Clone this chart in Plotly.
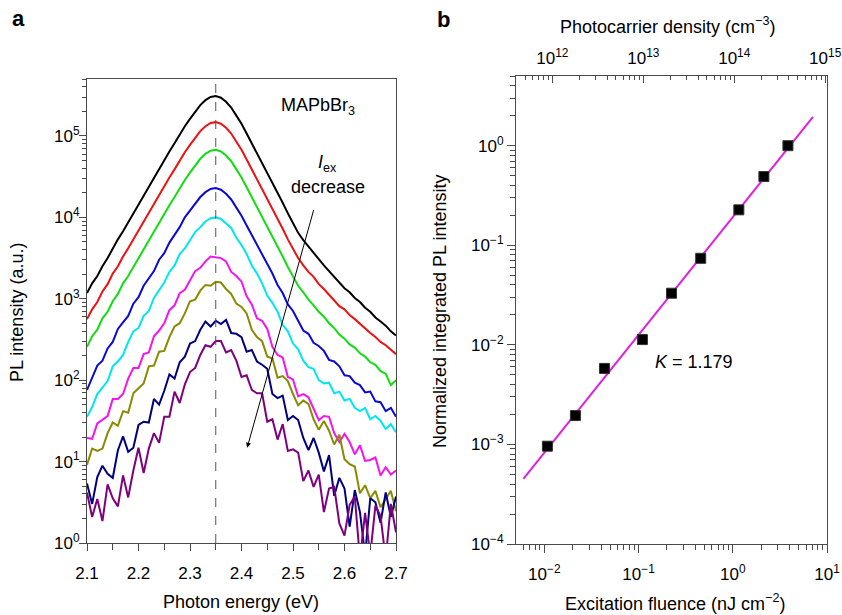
import numpy as np
import plotly.graph_objects as go

# ---- panel a : PL spectra, log10(counts) every 10 meV ----
energy = np.round(np.linspace(2.10, 2.70, 61), 2)   # photon energy grid (eV)
peak_energy = 2.35                                   # dashed guide line

pl_black = [3.07, 3.19, 3.28, 3.40, 3.50, 3.62, 3.73, 3.83, 3.94, 4.05,
            4.16, 4.27, 4.38, 4.49, 4.59, 4.70, 4.81, 4.91, 5.02, 5.12,
            5.21, 5.30, 5.38, 5.44, 5.48, 5.49, 5.47, 5.42, 5.35, 5.25,
            5.15, 5.03, 4.91, 4.79, 4.67, 4.55, 4.43, 4.30, 4.18, 4.05,
            3.93, 3.81, 3.72, 3.64, 3.56, 3.49, 3.41, 3.34, 3.27, 3.19,
            3.13, 3.08, 3.01, 2.96, 2.89, 2.84, 2.77, 2.72, 2.67, 2.60, 2.55]
pl_red = [2.75, 2.87, 2.96, 3.09, 3.18, 3.31, 3.40, 3.52, 3.62, 3.73,
          3.84, 3.95, 4.06, 4.17, 4.27, 4.38, 4.49, 4.59, 4.70, 4.80,
          4.89, 4.98, 5.06, 5.12, 5.16, 5.17, 5.15, 5.10, 5.03, 4.93,
          4.83, 4.71, 4.59, 4.47, 4.35, 4.23, 4.11, 3.98, 3.86, 3.73,
          3.61, 3.50, 3.41, 3.33, 3.27, 3.18, 3.12, 3.05, 2.98, 2.91,
          2.87, 2.80, 2.75, 2.69, 2.64, 2.58, 2.53, 2.47, 2.43, 2.37, 2.32]
pl_green = [2.41, 2.54, 2.62, 2.76, 2.84, 2.97, 3.06, 3.19, 3.28, 3.39,
            3.50, 3.61, 3.72, 3.83, 3.93, 4.04, 4.15, 4.25, 4.36, 4.46,
            4.55, 4.64, 4.72, 4.78, 4.82, 4.83, 4.81, 4.76, 4.69, 4.59,
            4.49, 4.37, 4.25, 4.13, 4.01, 3.89, 3.77, 3.64, 3.52, 3.39,
            3.27, 3.16, 3.08, 2.99, 2.92, 2.84, 2.78, 2.70, 2.64, 2.56,
            2.51, 2.44, 2.40, 2.33, 2.29, 2.22, 2.19, 2.11, 2.08, 1.94, 2.00]
pl_blue = [1.88, 2.04, 2.18, 2.24, 2.39, 2.47, 2.63, 2.71, 2.79, 2.94,
           3.02, 3.16, 3.25, 3.34, 3.48, 3.56, 3.69, 3.78, 3.88, 4.00,
           4.08, 4.17, 4.25, 4.31, 4.35, 4.36, 4.34, 4.29, 4.22, 4.12,
           4.02, 3.90, 3.78, 3.66, 3.54, 3.42, 3.31, 3.17, 3.07, 2.93,
           2.85, 2.73, 2.61, 2.57, 2.46, 2.42, 2.36, 2.25, 2.23, 2.17,
           2.06, 2.05, 1.97, 1.94, 1.85, 1.86, 1.74, 1.73, 1.62, 1.66, 1.55]
pl_cyan = [1.55, 1.67, 1.83, 1.91, 1.99, 2.17, 2.23, 2.31, 2.47, 2.60,
           2.64, 2.79, 2.85, 3.01, 3.10, 3.20, 3.33, 3.41, 3.55, 3.62,
           3.72, 3.82, 3.88, 3.95, 3.99, 4.00, 3.98, 3.93, 3.87, 3.75,
           3.66, 3.55, 3.41, 3.31, 3.19, 3.04, 2.95, 2.84, 2.68, 2.60,
           2.45, 2.38, 2.24, 2.16, 2.14, 2.00, 1.96, 1.97, 1.84, 1.86,
           1.75, 1.77, 1.66, 1.62, 1.66, 1.52, 1.56, 1.50, 1.40, 1.46, 1.36]
pl_magenta = [1.29, 1.28, 1.47, 1.52, 1.56, 1.77, 1.77, 1.83, 2.02, 2.15,
              2.15, 2.32, 2.34, 2.54, 2.61, 2.70, 2.86, 2.92, 3.07, 3.11,
              3.23, 3.34, 3.38, 3.46, 3.52, 3.51, 3.50, 3.46, 3.33, 3.28,
              3.21, 3.03, 2.93, 2.76, 2.73, 2.63, 2.41, 2.31, 2.28, 2.04,
              2.01, 1.80, 1.83, 1.79, 1.64, 1.51, 1.56, 1.55, 1.35, 1.24,
              1.34, 1.24, 1.09, 1.20, 1.01, 1.02, 1.05, 0.83, 0.93, 0.84, 0.89]
pl_olive = [0.96, 1.16, 1.13, 1.16, 1.35, 1.48, 1.44, 1.62, 1.60, 1.84,
            1.90, 1.96, 2.17, 2.18, 2.35, 2.36, 2.53, 2.66, 2.70, 2.82,
            2.97, 2.99, 3.10, 3.17, 3.16, 3.21, 3.20, 3.12, 3.06, 2.94,
            2.90, 2.82, 2.62, 2.53, 2.48, 2.29, 2.27, 2.03, 2.05, 1.99,
            1.83, 1.69, 1.75, 1.71, 1.52, 1.39, 1.50, 1.38, 1.21, 1.33,
            1.03, 0.97, 0.94, 0.61, 0.71, 0.55, 0.64, 0.44, 0.54, 0.64, 0.39]
pl_navy = [0.73, 0.48, 0.81, 0.95, 0.85, 0.80, 1.14, 1.31, 1.12, 1.17,
           1.45, 1.49, 1.48, 1.77, 1.70, 1.87, 2.07, 2.02, 2.22, 2.29,
           2.45, 2.48, 2.62, 2.72, 2.66, 2.73, 2.69, 2.74, 2.58, 2.57,
           2.53, 2.35, 2.37, 2.23, 2.19, 2.14, 1.83, 1.78, 1.81, 1.51,
           1.56, 1.51, 1.29, 1.14, 1.29, 1.11, 0.88, 1.08, 0.58, 0.80,
           0.67, 0.20, 0.65, 0.38, -0.15, 0.55, 0.50, 0.25, 0.62, 0.32, 0.57]
pl_purple = [0.62, 0.32, 0.54, 0.27, 0.72, 0.55, 0.45, 0.83, 0.56, 0.89,
             1.17, 0.86, 1.16, 1.35, 1.23, 1.55, 1.55, 1.86, 1.72, 1.95,
             2.10, 2.15, 2.31, 2.43, 2.41, 2.48, 2.48, 2.34, 2.37, 2.24,
             2.04, 2.06, 1.88, 1.84, 1.84, 1.49, 1.52, 1.27, 1.46, 1.13,
             1.15, 1.11, 0.76, 0.89, 0.69, 0.84, 0.38, 0.67, 0.69, 0.24,
             0.09, 0.47, 0.57, -0.20, 0.37, -0.15, 0.46, 0.33, -0.20, 0.48, 0.13]

spectra = [pl_black, pl_red, pl_green, pl_blue, pl_cyan,
           pl_magenta, pl_olive, pl_navy, pl_purple]
colors = ["#000000", "#ee1111", "#11dd11", "#0a0ad2", "#00e6f0",
          "#f514f0", "#8a8a00", "#00007f", "#7f007f"]

# ---- panel b : integrated PL vs excitation fluence ----
fluence = [0.0108, 0.0214, 0.0436, 0.110, 0.224, 0.457, 1.16, 2.14, 3.85]
norm_pl = [9.6e-4, 1.95e-3, 5.8e-3, 0.0113, 0.033, 0.074, 0.227, 0.49, 1.0]
fit_x = [0.006, 7.1]
fit_y = [4.5e-4, 1.95]
slope_k = 1.179

FONT = "Liberation Sans, Arial, sans-serif"
AX = "#4a4a4a"
TICK = 17
TITLE = 18
W, H = 842, 615


def px(x, y):
    return x / W, 1 - y / H


def dom_x(a, b):
    return [a / W, b / W]


def dom_y(top, bottom):
    return [1 - bottom / H, 1 - top / H]


def sup_labels(powers):
    return ["10<sup>%s</sup>" % (str(p).replace("-", "\u2212")) for p in powers]


def minor_log(p0, p1):
    return [k * 10.0 ** p for p in range(p0, p1) for k in range(2, 10)]


fig = go.Figure()

for vals, col in zip(spectra, colors):
    fig.add_trace(go.Scatter(x=energy, y=10 ** np.array(vals), mode="lines",
                             line=dict(color=col, width=2),
                             xaxis="x", yaxis="y", showlegend=False))

fig.add_trace(go.Scatter(x=fit_x, y=fit_y, mode="lines",
                         line=dict(color="#e020e0", width=2),
                         xaxis="x2", yaxis="y2", showlegend=False))
fig.add_trace(go.Scatter(x=fluence, y=norm_pl, mode="markers",
                         marker=dict(symbol="square", size=10, color="black",
                                     line=dict(color="#333", width=1)),
                         xaxis="x2", yaxis="y2", showlegend=False))
# empty holder so that the top (photocarrier density) axis gets drawn
fig.add_trace(go.Scatter(x=[1e13], y=[1e-6], mode="markers",
                         marker=dict(opacity=0), hoverinfo="skip",
                         xaxis="x3", yaxis="y2", showlegend=False))

common = dict(showline=True, linecolor=AX, linewidth=1, showgrid=False,
              zeroline=False, ticks="outside", tickcolor=AX, tickwidth=1,
              automargin=False,
              tickfont=dict(size=TICK, color="black", family=FONT))

fig.update_layout(
    width=W, height=H,
    margin=dict(l=0, r=0, t=0, b=0),
    plot_bgcolor="white", paper_bgcolor="white",
    font=dict(family=FONT, size=TICK, color="black"),
    xaxis=dict(domain=dom_x(87, 396), range=[2.1, 2.7], anchor="y",
               tick0=2.1, dtick=0.1, ticklen=7, mirror=True,
               ticklabelstandoff=8,
               minor=dict(dtick=0.05, ticks="outside", ticklen=6, tickcolor=AX),
               **common),
    yaxis=dict(domain=dom_y(79, 543), type="log", range=[0, 5.7], anchor="x",
               tickvals=[10 ** p for p in range(0, 6)],
               ticktext=sup_labels(range(0, 6)), ticklen=7, mirror=True,
               ticklabelstandoff=-4,
               minor=dict(tickvals=minor_log(0, 6), ticks="outside",
                          ticklen=4, tickcolor=AX),
               **common),
    xaxis2=dict(domain=dom_x(516, 827), type="log", range=[-2.3, 1.0],
                anchor="y2", tickvals=[10 ** p for p in range(-2, 2)],
                ticktext=sup_labels(range(-2, 2)), ticklen=8, mirror=True,
                ticklabelstandoff=7, ticklabeloverflow="allow",
                minor=dict(tickvals=minor_log(-3, 1), ticks="outside",
                           ticklen=5, tickcolor=AX),
                **common),
    yaxis2=dict(domain=dom_y(76, 544), type="log", range=[-4, 0.7],
                anchor="x2", tickvals=[10 ** p for p in range(-4, 1)],
                ticktext=sup_labels(range(-4, 1)), ticklen=8, mirror=True,
                minor=dict(tickvals=minor_log(-4, 1), ticks="outside",
                           ticklen=5, tickcolor=AX),
                **common),
    xaxis3=dict(type="log", range=[11.6, 15.02], overlaying="x2", side="top",
                anchor="y2", showline=True, linecolor=AX, showgrid=False,
                zeroline=False, ticks="inside", ticklen=7, tickcolor=AX,
                automargin=False, ticklabeloverflow="allow",
                tickvals=[10 ** p for p in range(12, 16)],
                ticktext=sup_labels(range(12, 16)), ticklabelstandoff=4,
                tickfont=dict(size=TICK, color="black", family=FONT),
                minor=dict(tickvals=minor_log(11, 15), ticks="inside",
                           ticklen=4, tickcolor=AX)),
)

fig.add_shape(type="line", xref="x", yref="y domain", x0=peak_energy,
              x1=peak_energy, y0=0, y1=1,
              line=dict(color="#555", width=1, dash="dash"))

ann = []


def text(x, y, s, size=TITLE, angle=0, xanchor="center"):
    xx, yy = px(x, y)
    ann.append(dict(x=xx, y=yy, xref="paper", yref="paper", text=s,
                    showarrow=False, textangle=angle, xanchor=xanchor,
                    yanchor="middle", font=dict(size=size, family=FONT,
                                                color="black")))


text(18, 19, "<b>a</b>", size=22)
text(443, 20, "<b>b</b>", size=22)
text(241, 602, "Photon energy (eV)")
text(17, 313, "PL intensity (a.u.)", angle=-90)
text(675, 602, "Excitation fluence (nJ cm<sup>\u22122</sup>)")
text(667, 26, "Photocarrier density (cm<sup>\u22123</sup>)")
text(440, 311, "Normalized integrated PL intensity", angle=-90)
text(318, 107, "MAPbBr<sub>3</sub>")
text(327, 164, "<i>I</i><sub>ex</sub>")
text(328, 187, "decrease")
text(694, 362, "<i>K</i> = %.3f" % slope_k)

# arrow showing the decrease of excitation intensity (log axis -> exponent units)
ann.append(dict(x=2.411, y=1.17, xref="x", yref="y", ax=2.541, ay=4.11,
                axref="x", ayref="y", showarrow=True, arrowhead=2,
                arrowsize=1, arrowwidth=1, arrowcolor="black", text=""))

fig.update_layout(annotations=ann)

# drop the page's default 8px body margin so the figure fills the window
fig.write_html("out.html",
               config={"displayModeBar": False},
               post_script="document.body.style.margin='0px';"
                           "document.body.style.overflow='hidden';")
